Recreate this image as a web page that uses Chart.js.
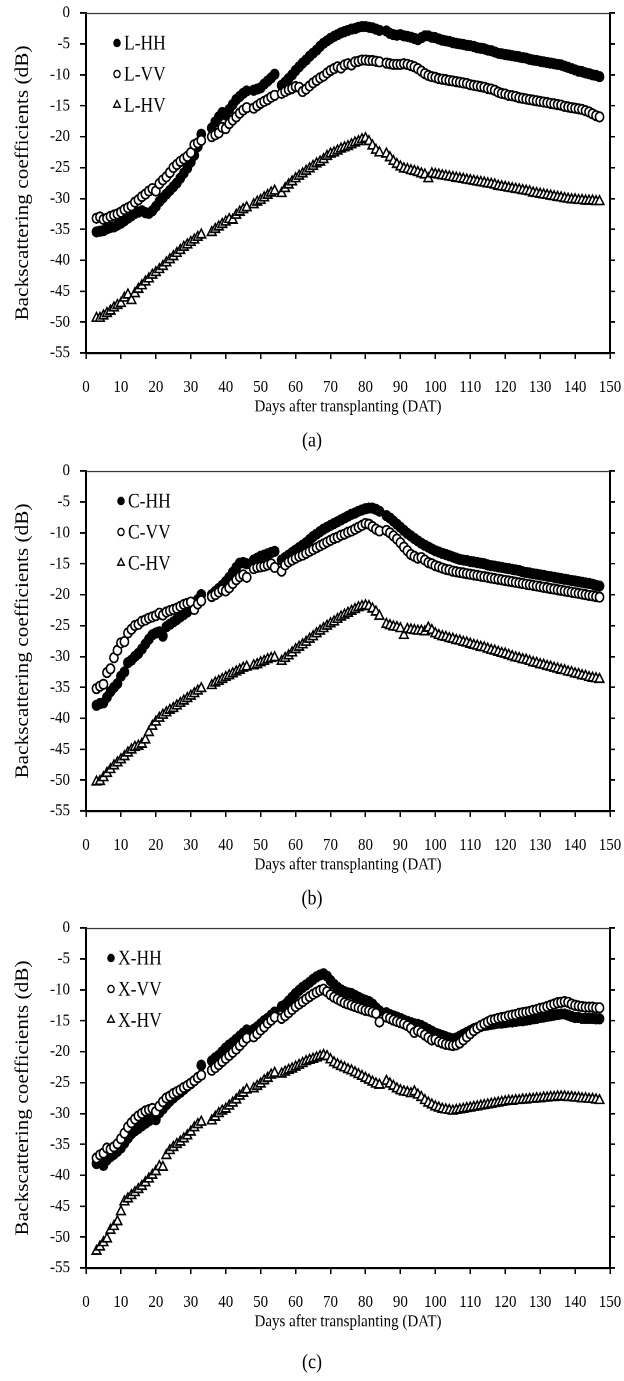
<!DOCTYPE html>
<html><head><meta charset="utf-8">
<script src="https://cdn.jsdelivr.net/npm/chart.js@4.4.1/dist/chart.umd.min.js"></script>
<style>
html,body{margin:0;padding:0;background:#fff;}
body{width:624px;height:1381px;position:relative;overflow:hidden;}
.wrap{position:absolute;left:0;width:624px;transform-origin:0 0;}
canvas{display:block;}
</style></head><body>
<div class="wrap" id="wa" style="top:0px"><canvas id="ca"></canvas></div>
<div class="wrap" id="wb" style="top:458px"><canvas id="cb"></canvas></div>
<div class="wrap" id="wc" style="top:915px"><canvas id="cc"></canvas></div>
<script>
// ---------- data ----------
const days = [
  3,4,5,6,7,8,9,10,11,12,13,14,15,16,17,18,19,20,21,22,23,24,25,26,27,28,29,30,31,32,33,
  36,37,38,39,40,41,42,43,44,45,46,
  48,49,50,51,52,53,54,
  56,57,58,59,60,61,62,63,64,65,66,67,68,69,70,71,72,73,74,75,76,77,78,79,80,81,82,83,84,
  86,87,88,89,90,91,92,93,94,95,96,97,98,99,100,101,102,103,104,105,106,107,108,109,110,
  111,112,113,114,115,116,117,118,119,120,121,122,123,124,125,126,127,128,129,130,131,132,
  133,134,135,136,137,138,139,140,141,142,143,144,145,146,147
];
const xTickValues = [0,10,20,30,40,50,60,70,80,90,100,110,120,130,140,150];
const yTickValues = [0,-5,-10,-15,-20,-25,-30,-35,-40,-45,-50,-55];
const xAxisTitle = 'Days after transplanting (DAT)';
const yAxisTitle = 'Backscattering coefficients (dB)';
const namesA = ['L-HH','L-VV','L-HV'];
const namesB = ['C-HH','C-VV','C-HV'];
const namesC = ['X-HH','X-VV','X-HV'];
const captions = ['(a)','(b)','(c)'];

const lHH = [
  -35.4,-35.3,-35.2,-34.9,-34.7,-34.6,-34.3,-34.0,-33.6,-33.2,-32.8,-32.4,-32.2,-32.0,-32.3,-32.4,-32.0,-31.3,-30.5,-29.9,
  -29.3,-28.7,-28.1,-27.5,-26.7,-25.9,-25.1,-24.1,-23.0,-21.6,-19.6,
  -18.6,-17.6,-16.8,-16.1,-16.5,-15.6,-14.8,-14.0,-13.5,-13.0,-12.6,
  -12.5,-12.3,-12.1,-11.5,-11.0,-10.5,-9.9,
  -11.7,-11.2,-10.6,-10.0,-9.3,-8.7,-8.1,-7.6,-7.0,-6.5,-6.0,-5.4,-4.9,-4.5,-4.1,-3.8,-3.5,-3.2,-3.0,-2.8,
  -2.6,-2.5,-2.3,-2.2,-2.2,-2.3,-2.4,-2.6,-2.8,
  -2.9,-3.3,-3.5,-3.6,-3.5,-3.7,-3.8,-3.9,-4.1,-4.3,-4.0,-3.7,-3.7,-3.9,-4.0,-4.2,-4.4,-4.5,-4.6,-4.8,
  -4.9,-5.0,-5.1,-5.2,-5.3,-5.4,-5.6,-5.7,-5.8,-6.0,-6.1,-6.3,-6.5,-6.6,-6.7,-6.8,-6.9,-7.0,-7.1,-7.2,
  -7.3,-7.5,-7.6,-7.7,-7.8,-7.9,-8.0,-8.1,-8.2,-8.3,-8.4,-8.6,-8.8,-9.0,-9.2,-9.4,-9.5,-9.7,-9.8,-10.0,
  -10.1,-10.3
];
const lVV = [
  -33.2,-33.0,-33.4,-33.2,-32.9,-32.7,-32.5,-32.2,-31.8,-31.5,-31.2,-30.6,-30.2,-29.7,-29.3,-28.8,-28.4,-28.8,-27.6,-27.0,
  -26.5,-25.8,-25.0,-24.5,-24.0,-23.6,-23.2,-22.6,-21.3,-21.0,-20.6,
  -20.0,-19.7,-19.4,-18.5,-18.7,-17.9,-17.3,-16.8,-16.2,-15.7,-15.3,
  -15.4,-15.0,-14.6,-14.3,-14.0,-13.6,-13.3,
  -13.0,-12.7,-12.4,-12.2,-11.9,-12.0,-12.7,-12.3,-11.8,-11.3,-10.9,-10.5,-10.2,-9.7,-9.3,-9.0,-8.7,-8.9,-8.4,-8.2,
  -8.4,-7.9,-7.8,-7.6,-7.6,-7.7,-7.7,-7.8,-7.9,
  -8.1,-8.2,-8.3,-8.3,-8.3,-8.2,-8.3,-8.5,-8.7,-9.0,-9.4,-9.8,-10.1,-10.3,-10.4,-10.6,-10.7,-10.8,-10.9,-11.0,
  -11.1,-11.2,-11.3,-11.4,-11.6,-11.7,-11.8,-11.9,-12.0,-12.2,-12.3,-12.5,-12.8,-13.0,-13.1,-13.3,-13.4,-13.5,-13.7,-13.8,
  -13.9,-14.0,-14.1,-14.2,-14.3,-14.4,-14.5,-14.6,-14.7,-14.8,-14.9,-15.1,-15.2,-15.3,-15.4,-15.5,-15.6,-15.8,-16.0,-16.3,
  -16.6,-16.8
];
const lHV = [
  -49.4,-49.4,-49.0,-48.6,-48.2,-47.7,-47.3,-47.0,-46.1,-45.6,-46.5,-45.4,-44.7,-44.1,-43.5,-43.0,-42.4,-42.0,-41.5,-41.0,
  -40.4,-39.9,-39.4,-38.9,-38.4,-37.9,-37.5,-37.1,-36.7,-36.3,-35.9,
  -35.5,-35.0,-34.6,-34.2,-33.8,-33.4,-33.5,-32.7,-32.2,-31.8,-31.5,
  -31.0,-30.6,-30.3,-29.9,-29.5,-29.1,-28.8,
  -29.2,-28.4,-27.8,-27.3,-26.8,-26.4,-26.0,-25.6,-25.2,-24.8,-24.4,-24.1,-23.7,-23.2,-22.8,-22.6,-22.3,-22.0,-21.8,-21.6,
  -21.3,-21.0,-20.8,-20.5,-20.3,-20.8,-21.5,-22.2,-22.6,
  -22.8,-23.4,-24.0,-24.5,-24.9,-25.2,-25.3,-25.5,-25.6,-25.8,-26.0,-26.2,-26.8,-26.0,-26.1,-26.2,-26.3,-26.4,-26.5,-26.6,
  -26.7,-26.8,-26.9,-27.0,-27.1,-27.2,-27.3,-27.4,-27.5,-27.6,-27.7,-27.8,-28.0,-28.1,-28.2,-28.3,-28.4,-28.5,-28.6,-28.7,
  -28.8,-28.9,-29.1,-29.2,-29.3,-29.4,-29.5,-29.6,-29.7,-29.8,-29.9,-30.0,-30.1,-30.2,-30.2,-30.3,-30.3,-30.4,-30.4,-30.4,
  -30.5,-30.5
];
const cHH = [
  -37.9,-37.6,-37.5,-36.6,-35.7,-35.0,-34.4,-33.2,-32.5,-31.0,-30.6,-30.0,-29.5,-28.8,-28.0,-27.2,-26.5,-26.2,-26.0,-26.7,
  -25.2,-24.8,-24.4,-24.0,-23.6,-23.2,-22.8,-22.3,-21.6,-20.8,-20.0,
  -20.0,-19.5,-19.0,-18.5,-17.9,-17.2,-16.4,-15.6,-14.9,-14.8,-15.0,
  -14.4,-14.1,-13.8,-13.6,-13.4,-13.2,-13.0,
  -14.4,-14.0,-13.6,-13.2,-12.8,-12.4,-12.0,-11.6,-11.1,-10.6,-10.2,-9.8,-9.4,-9.1,-8.8,-8.5,-8.2,-7.9,-7.6,-7.3,
  -7.0,-6.8,-6.5,-6.3,-6.1,-6.0,-6.0,-6.2,-6.5,
  -7.2,-7.6,-8.1,-8.6,-9.1,-9.6,-10.1,-10.5,-10.9,-11.3,-11.7,-12.0,-12.3,-12.6,-12.9,-13.1,-13.3,-13.5,-13.7,-13.9,
  -14.1,-14.3,-14.4,-14.5,-14.6,-14.7,-14.8,-14.9,-15.0,-15.2,-15.3,-15.4,-15.5,-15.6,-15.7,-15.8,-15.9,-16.0,-16.1,-16.3,
  -16.4,-16.5,-16.6,-16.7,-16.8,-16.9,-17.0,-17.1,-17.2,-17.3,-17.4,-17.5,-17.6,-17.7,-17.8,-17.9,-18.0,-18.1,-18.2,-18.3,
  -18.5,-18.6
];
const cVV = [
  -35.2,-34.8,-34.5,-32.6,-32.0,-30.2,-29.0,-27.8,-27.6,-26.2,-25.6,-25.0,-24.8,-24.3,-24.1,-23.8,-23.6,-23.4,-23.0,-23.3,
  -22.8,-22.6,-22.4,-22.2,-21.9,-21.6,-21.4,-21.2,-22.4,-21.5,-21.0,
  -20.3,-20.0,-19.6,-19.2,-19.4,-18.9,-18.2,-17.6,-17.1,-16.8,-17.2,
  -15.8,-15.6,-15.5,-15.4,-15.2,-15.0,-15.6,
  -16.2,-15.2,-14.7,-14.4,-14.1,-13.8,-13.6,-13.3,-13.0,-12.7,-12.4,-12.1,-11.8,-11.5,-11.2,-10.9,-10.7,-10.4,-10.2,-9.9,
  -9.7,-9.4,-9.1,-8.8,-8.5,-8.6,-9.0,-9.4,-9.7,
  -9.6,-10.0,-10.5,-11.0,-11.6,-12.3,-12.9,-13.5,-13.8,-14.1,-14.0,-14.4,-14.8,-15.0,-15.3,-15.5,-15.7,-15.9,-16.0,-16.2,
  -16.3,-16.4,-16.5,-16.6,-16.7,-16.8,-16.9,-17.0,-17.1,-17.2,-17.3,-17.4,-17.5,-17.6,-17.7,-17.8,-17.9,-18.0,-18.1,-18.2,
  -18.3,-18.4,-18.5,-18.6,-18.7,-18.8,-18.9,-19.0,-19.1,-19.2,-19.3,-19.4,-19.5,-19.6,-19.7,-19.8,-19.9,-20.0,-20.1,-20.2,
  -20.3,-20.4
];
const cHV = [
  -50.3,-50.2,-49.6,-48.9,-48.3,-47.7,-47.2,-46.7,-46.2,-45.6,-45.1,-44.7,-44.5,-44.2,-43.5,-42.3,-41.3,-40.6,-40.0,-39.5,
  -39.1,-38.7,-38.4,-38.0,-37.6,-37.2,-36.8,-36.4,-36.0,-35.6,-35.2,
  -34.7,-34.3,-34.0,-33.7,-33.4,-33.1,-32.8,-32.5,-32.2,-31.9,-31.7,
  -31.5,-31.3,-31.0,-30.8,-30.5,-30.3,-30.2,
  -30.8,-30.3,-29.9,-29.4,-28.9,-28.5,-28.1,-27.7,-27.2,-26.8,-26.3,-25.9,-25.5,-25.1,-24.7,-24.4,-24.0,-23.6,-23.3,-23.0,
  -22.7,-22.4,-22.1,-21.9,-21.8,-21.9,-22.3,-22.8,-23.5,
  -24.8,-25.0,-25.2,-25.3,-25.5,-26.6,-25.6,-25.7,-25.8,-25.9,-25.9,-26.0,-25.4,-25.8,-26.3,-26.6,-26.8,-26.9,-27.1,-27.2,
  -27.4,-27.5,-27.7,-27.8,-28.0,-28.2,-28.3,-28.5,-28.6,-28.8,-29.0,-29.1,-29.3,-29.5,-29.6,-29.8,-30.0,-30.2,-30.3,-30.5,
  -30.6,-30.8,-31.0,-31.1,-31.3,-31.4,-31.6,-31.7,-31.9,-32.0,-32.2,-32.3,-32.5,-32.6,-32.8,-32.9,-33.1,-33.2,-33.4,-33.5,
  -33.6,-33.7
];
const xHH = [
  -38.1,-37.8,-38.4,-37.5,-37.0,-36.6,-36.1,-35.6,-34.8,-34.0,-33.3,-32.8,-32.4,-32.0,-31.6,-31.2,-30.9,-31.0,-29.9,-29.3,
  -28.6,-28.0,-27.5,-27.0,-26.6,-26.1,-25.6,-25.2,-24.7,-24.2,-22.2,
  -21.5,-21.0,-20.6,-20.0,-19.4,-18.9,-18.5,-18.0,-17.5,-17.0,-16.5,
  -16.4,-16.0,-15.5,-15.0,-14.6,-14.1,-13.6,
  -12.7,-12.4,-11.8,-11.2,-10.6,-10.1,-9.6,-9.2,-8.8,-8.3,-7.9,-7.6,-7.4,-7.8,-8.5,-9.1,-9.6,-10.0,-10.3,-10.5,
  -10.6,-10.9,-11.2,-11.5,-11.7,-11.9,-12.3,-12.9,-13.4,
  -13.7,-14.0,-14.2,-14.4,-14.6,-14.9,-15.1,-15.3,-15.5,-15.6,-15.8,-16.1,-16.4,-16.7,-17.0,-17.2,-17.4,-17.6,-17.8,-17.9,
  -17.8,-17.5,-17.2,-16.9,-16.6,-16.3,-16.1,-15.9,-15.8,-15.7,-15.6,-15.5,-15.4,-15.4,-15.3,-15.2,-15.2,-15.1,-15.0,-15.0,
  -14.9,-14.8,-14.7,-14.6,-14.5,-14.4,-14.3,-14.2,-14.1,-14.0,-13.9,-13.9,-14.1,-14.3,-14.5,-14.5,-14.6,-14.6,-14.6,-14.6,
  -14.7,-14.7
];
const xVV = [
  -37.2,-36.7,-36.4,-35.6,-35.8,-35.4,-34.9,-34.1,-33.2,-32.2,-31.5,-30.9,-30.4,-30.0,-29.6,-29.4,-29.2,-29.7,-28.8,-28.1,
  -27.5,-27.2,-26.8,-26.5,-26.2,-25.8,-25.5,-25.1,-24.7,-24.2,-23.8,
  -23.0,-22.6,-22.1,-21.6,-21.1,-20.6,-20.1,-19.6,-19.0,-18.4,-17.8,
  -17.6,-17.1,-16.5,-16.0,-15.4,-14.9,-14.4,
  -14.6,-14.2,-13.7,-13.2,-12.7,-12.3,-11.9,-11.5,-11.1,-10.7,-10.4,-10.1,-9.9,-10.3,-10.8,-11.2,-11.5,-11.8,-12.1,-12.3,
  -12.5,-12.7,-12.9,-13.1,-13.3,-13.4,-13.6,-13.8,-15.2,
  -14.4,-14.6,-14.9,-15.1,-15.3,-15.5,-15.8,-16.2,-16.9,-16.6,-16.9,-17.3,-17.7,-18.1,-18.0,-18.4,-18.6,-18.8,-18.9,-19.0,
  -18.9,-18.6,-18.1,-17.6,-17.1,-16.6,-16.2,-15.8,-15.5,-15.2,-14.9,-14.8,-14.6,-14.5,-14.4,-14.2,-14.1,-14.0,-13.8,-13.7,
  -13.6,-13.5,-13.3,-13.2,-13.0,-12.9,-12.7,-12.5,-12.3,-12.1,-12.0,-11.9,-12.0,-12.3,-12.5,-12.6,-12.7,-12.8,-12.8,-12.8,
  -12.9,-12.9
];
const xHV = [
  -52.3,-51.6,-50.9,-50.3,-48.9,-48.3,-47.5,-45.9,-44.3,-43.8,-43.3,-42.8,-42.3,-41.8,-41.2,-40.6,-40.0,-39.4,-38.6,-38.7,
  -36.8,-36.0,-35.5,-35.0,-34.6,-34.1,-33.6,-33.0,-32.3,-31.8,-31.4,
  -31.2,-30.6,-30.0,-29.6,-29.3,-28.8,-28.3,-27.8,-27.2,-26.7,-26.2,
  -26.0,-25.6,-25.2,-24.7,-24.3,-23.8,-23.5,
  -23.6,-23.3,-23.0,-22.8,-22.5,-22.2,-21.9,-21.6,-21.4,-21.2,-21.0,-20.8,-20.6,-20.8,-21.3,-21.8,-22.1,-22.4,-22.6,-22.9,
  -23.1,-23.4,-23.7,-24.0,-24.3,-24.6,-24.9,-25.2,-25.4,
  -24.8,-25.2,-25.6,-26.0,-26.3,-26.5,-26.6,-26.8,-26.5,-27.0,-27.4,-27.9,-28.3,-28.6,-28.9,-29.1,-29.3,-29.4,-29.5,-29.6,
  -29.5,-29.4,-29.3,-29.2,-29.1,-29.0,-28.9,-28.8,-28.7,-28.6,-28.5,-28.4,-28.3,-28.2,-28.1,-28.0,-28.0,-27.9,-27.9,-27.8,
  -27.8,-27.7,-27.7,-27.6,-27.6,-27.5,-27.5,-27.4,-27.4,-27.3,-27.3,-27.3,-27.4,-27.4,-27.5,-27.5,-27.6,-27.6,-27.7,-27.7,
  -27.8,-27.9
];

// ---------- drawing ----------
const SERIF = "'Liberation Serif','Times New Roman',serif";

function toXY(xs, ys) { return xs.map((x, i) => ({x: x, y: ys[i]})); }

const frameTop = {
  id: 'frameTop',
  afterDraw(chart) {
    const a = chart.chartArea, ctx = chart.ctx;
    ctx.save();
    ctx.strokeStyle = '#333';
    ctx.lineWidth = 1;
    ctx.beginPath();
    ctx.moveTo(a.left, a.top + 0.5);
    ctx.lineTo(a.right, a.top + 0.5);
    ctx.stroke();
    ctx.restore();
  }
};

function marker(ctx, style, r, x, y) {
  ctx.beginPath();
  if (style === 'triangle') {
    for (let k = 0; k < 3; k++) {
      const ang = -Math.PI / 2 + k * 2 * Math.PI / 3;
      const px = x + Math.cos(ang) * r, py = y + Math.sin(ang) * r;
      if (k === 0) ctx.moveTo(px, py); else ctx.lineTo(px, py);
    }
    ctx.closePath();
  } else {
    ctx.arc(x, y, r, 0, Math.PI * 2);
  }
  ctx.fill();
  ctx.stroke();
}

const innerLegend = {
  id: 'innerLegend',
  afterDraw(chart, args, o) {
    const ctx = chart.ctx;
    ctx.save();
    ctx.font = o.fontSize + 'px ' + SERIF;
    ctx.textBaseline = 'middle';
    ctx.textAlign = 'left';
    chart.data.datasets.forEach((ds, i) => {
      const y = o.y0 + i * o.dy;
      ctx.fillStyle = ds.backgroundColor;
      ctx.strokeStyle = ds.borderColor;
      ctx.lineWidth = 1.3;
      marker(ctx, ds.pointStyle, ds.pointStyle === 'triangle' ? o.r + 0.8 : o.r, o.x, y);
      ctx.fillStyle = '#000';
      ctx.fillText(ds.label, o.x + 7, y + 1);
    });
    ctx.restore();
  }
};

// L holds target positions in page pixels (relative to the chart block);
// the canvas is drawn at height Hc and stretched vertically to H.
function makeChart(wrapId, id, names, sets, caption, L) {
  const s = L.H / L.Hc;
  const wrap = document.getElementById(wrapId);
  wrap.style.height = L.Hc + 'px';
  wrap.style.transform = 'scaleY(' + s + ')';
  const cv = document.getElementById(id);
  cv.width = 624; cv.height = L.Hc;
  cv.style.width = '624px'; cv.style.height = L.Hc + 'px';

  const Hc = L.Hc;
  const plotTop = L.plotTop / s, plotBottom = L.plotBottom / s;
  const capFont = 18, capLH = capFont * 1.2;
  const capPadBottom = Hc - L.capCenter / s - capLH / 2;
  const capTop = Hc - capPadBottom - capLH;
  const xScaleH = capTop - plotBottom;
  const xTitleFont = 15, xTitleLH = xTitleFont * 1.2;
  const xTitlePadBottom = capTop - L.xTitleCenter / s - xTitleLH / 2;
  const tickLenX = 6 / s;
  const tickFont = 15;
  const xLabPad = L.xLabelTop / s - plotBottom - tickLenX;
  const yTitleFont = 18.5;

  const tickCommon = {font: {family: SERIF, size: tickFont}, color: '#000'};

  return new Chart(cv, {
    type: 'scatter',
    data: {
      datasets: [
        {label: names[0], data: toXY(days, sets[0]), pointStyle: 'circle', pointRadius: 4.4,
         backgroundColor: '#000', borderColor: '#000', borderWidth: 1, order: 3},
        {label: names[1], data: toXY(days, sets[1]), pointStyle: 'circle', pointRadius: 4.1,
         backgroundColor: '#fff', borderColor: '#000', borderWidth: 1.6, order: 2},
        {label: names[2], data: toXY(days, sets[2]), pointStyle: 'triangle', pointRadius: 5.0,
         backgroundColor: '#fff', borderColor: '#000', borderWidth: 1.5, order: 1}
      ]
    },
    options: {
      responsive: false,
      maintainAspectRatio: false,
      animation: false,
      devicePixelRatio: 2,
      events: [],
      layout: {padding: {top: plotTop, left: 0, right: 0, bottom: 0}},
      plugins: {
        legend: {display: false},
        tooltip: {enabled: false},
        title: {
          display: true, position: 'bottom', text: caption, color: '#000',
          font: {family: SERIF, size: capFont, weight: 'normal', lineHeight: 1.2},
          padding: {top: 0, bottom: capPadBottom}
        },
        innerLegend: {x: L.legX, y0: L.legY / s, dy: L.legDy / s, r: 3.1, fontSize: 17.5}
      },
      scales: {
        x: {
          type: 'linear', position: 'bottom', min: 0, max: 150,
          afterBuildTicks: sc => { sc.ticks = xTickValues.map(v => ({value: v})); },
          afterFit: sc => { sc.height = xScaleH; sc.paddingLeft = 0; sc.paddingRight = 0; },
          ticks: Object.assign({padding: xLabPad, maxRotation: 0, autoSkip: false,
            callback: v => String(v)}, tickCommon),
          grid: {drawOnChartArea: false, drawTicks: true, tickLength: tickLenX, color: '#000', lineWidth: 1.5},
          border: {display: true, color: '#000', width: 1.8},
          title: {display: true, text: xAxisTitle, color: '#000',
            font: {family: SERIF, size: xTitleFont, lineHeight: 1.2},
            padding: {top: 0, bottom: xTitlePadBottom}}
        },
        y: {
          type: 'linear', position: 'left', min: -55, max: 0,
          afterBuildTicks: sc => { sc.ticks = yTickValues.map(v => ({value: v})); },
          afterFit: sc => { sc.width = L.plotLeft; sc.paddingTop = 0; sc.paddingBottom = 0; },
          ticks: Object.assign({padding: 10, callback: v => String(v)}, tickCommon),
          grid: {drawOnChartArea: false, drawTicks: true, tickLength: 6, color: '#000', lineWidth: 1.4},
          border: {display: true, color: '#000', width: 2},
          title: {display: true, text: yAxisTitle, color: '#000',
            font: {family: SERIF, size: yTitleFont, lineHeight: 1.2},
            padding: {top: L.yTitleX - yTitleFont * 0.6, bottom: 0}}
        },
        y2: {
          type: 'linear', position: 'right', min: -55, max: 0,
          afterBuildTicks: sc => { sc.ticks = yTickValues.map(v => ({value: v})); },
          afterFit: sc => { sc.width = 624 - L.plotRight; sc.paddingTop = 0; sc.paddingBottom = 0; },
          ticks: {display: false},
          grid: {drawOnChartArea: false, drawTicks: true, tickLength: 5, color: '#000', lineWidth: 1.4},
          border: {display: true, color: '#000', width: 2}
        }
      }
    },
    plugins: [frameTop, innerLegend]
  });
}

const layoutA = {H: 458, Hc: 398, plotTop: 13, plotBottom: 353, plotLeft: 86, plotRight: 610,
  xLabelTop: 377, xTitleCenter: 407, capCenter: 441, yTitleX: 23,
  legX: 117, legY: 43, legDy: 31};
const layoutB = Object.assign({}, layoutA, {legX: 121});
const layoutC = Object.assign({}, layoutA, {H: 466, Hc: 405, capCenter: 448, legX: 111});

makeChart('wa', 'ca', namesA, [lHH, lVV, lHV], captions[0], layoutA);
makeChart('wb', 'cb', namesB, [cHH, cVV, cHV], captions[1], layoutB);
makeChart('wc', 'cc', namesC, [xHH, xVV, xHV], captions[2], layoutC);
</script>
</body></html>
